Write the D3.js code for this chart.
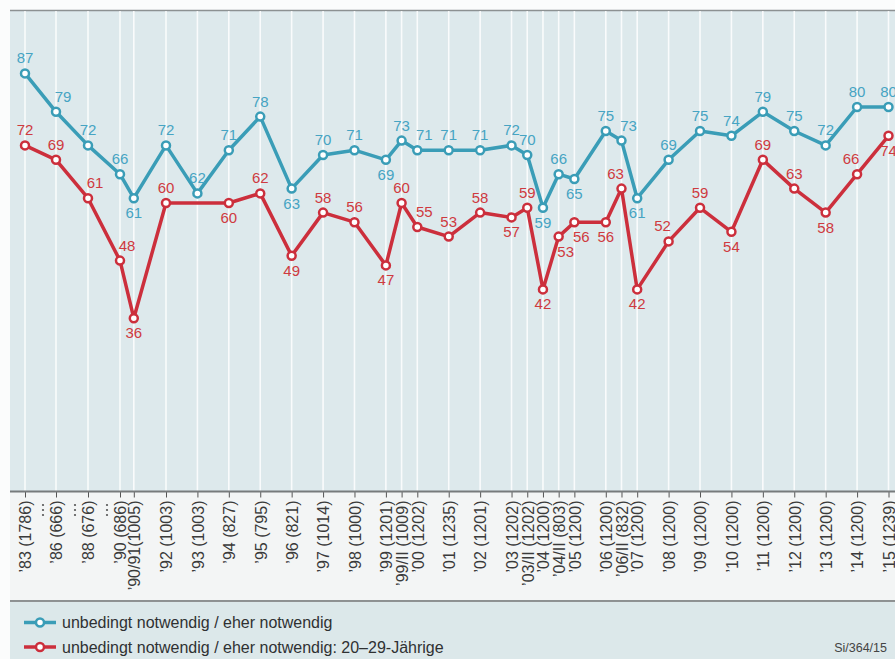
<!DOCTYPE html>
<html>
<head>
<meta charset="utf-8">
<script src="https://cdn.jsdelivr.net/npm/d3@7"></script>
<style>
  html, body { margin: 0; padding: 0; background: #fbfcfc; }
  svg { display: block; font-family: "Liberation Sans", Arial, Helvetica, sans-serif; }
</style>
</head>
<body>
<svg id="chart" width="895" height="659"></svg>
<script>
// ---- data ----
const categories = ["’83 (1786)", "’86 (666)", "’88 (676)", "’90 (686)", "’90/91(1005)", "’92 (1003)", "’93 (1003)", "’94 (827)", "’95 (795)", "’96 (821)", "’97 (1014)", "’98 (1000)", "’99 (1201)", "’99/II (1009)", "’00 (1202)", "’01 (1235)", "’02 (1201)", "’03 (1202)", "’03/II (1202)", "’04 (1200)", "’04/II (803)", "’05 (1200)", "’06 (1200)", "’06/II (832)", "’07 (1200)", "’08 (1200)", "’09 (1200)", "’10 (1200)", "’11 (1200)", "’12 (1200)", "’13 (1200)", "’14 (1200)", "’15 (1239)"];
// approximate survey time (year fraction)
const surveyTime = [1983.5, 1986.5, 1988.5, 1990.5, 1991.1, 1992.5, 1993.5, 1994.5, 1995.5, 1996.5, 1997.5, 1998.5, 1999.5, 2000.0, 2000.5, 2001.5, 2002.5, 2003.5, 2004.0, 2004.5, 2005.0, 2005.5, 2006.5, 2007.0, 2007.5, 2008.5, 2009.5, 2010.5, 2011.5, 2012.5, 2013.5, 2014.5, 2015.5];
const allValues = [87, 79, 72, 66, 61, 72, 62, 71, 78, 63, 70, 71, 69, 73, 71, 71, 71, 72, 70, 59, 66, 65, 75, 73, 61, 69, 75, 74, 79, 75, 72, 80, 80];
const youngValues = [72, 69, 61, 48, 36, 60, null, 60, 62, 49, 58, 56, 47, 60, 55, 53, 58, 57, 59, 42, 53, 56, 56, 63, 42, 52, 59, 54, 69, 63, 58, 66, 74];
// label placement: t = above, b = below, r/l = nudged right/left
const allLabelPlace = ["t","tr","t","t","b","t","t","t","t","b","t","t","b","t","tr","t","t","t","t","b","t","b","t","tr","b","t","t","t","t","t","t","t","t"];
const youngLabelPlace = ["t","t","tr","tr","b","t","t","b","t","b","t","t","b","t","tr","t","t","b","t","b","br","br","b","tl","b","tl","t","b","t","t","b","tl","b"];
const seriesNames = ["unbedingt notwendig / eher notwendig", "unbedingt notwendig / eher notwendig: 20–29-Jährige"];
const sourceNote = "Si/364/15";

// ---- styles ----
const blue = "#3a9db7", blueText = "#46a4c3";
const red = "#cc2f3c", redText = "#cf3a40";

const svg = d3.select("#chart");
const W = 895, H = 659;
const plotTop = 11, plotBottom = 491, plotLeft = 10;

// backgrounds
svg.append("rect").attr("x", plotLeft).attr("y", plotTop).attr("width", W - plotLeft).attr("height", plotBottom - plotTop).attr("fill", "#dde9ec");
svg.append("rect").attr("x", plotLeft).attr("y", plotBottom).attr("width", W - plotLeft).attr("height", 110).attr("fill", "#f3f5f5");
svg.append("rect").attr("x", plotLeft).attr("y", 602).attr("width", W - plotLeft).attr("height", 57).attr("fill", "#dce8ea");
svg.append("line").attr("x1", plotLeft).attr("x2", W).attr("y1", 10.5).attr("y2", 10.5).attr("stroke", "#8c9192").attr("stroke-width", 1.5);
svg.append("line").attr("x1", plotLeft).attr("x2", W).attr("y1", 601).attr("y2", 601).attr("stroke", "#6b6f70").attr("stroke-width", 1.5);

// scales (broken time axis before 1992)
const x = d3.scaleLinear()
  .domain([surveyTime[0], surveyTime[1], surveyTime[2], surveyTime[3], surveyTime[5], surveyTime[surveyTime.length - 1]])
  .range([25, 56, 88, 120, 166, 888.5]);
const y = d3.scaleLinear().domain([0, 100]).range([plotBottom, plotTop]);

// grid lines
svg.append("g").selectAll("line").data(surveyTime).join("line")
  .attr("x1", d => x(d)).attr("x2", d => x(d))
  .attr("y1", plotTop).attr("y2", plotBottom)
  .attr("stroke", "#ffffff").attr("stroke-width", 1.6).attr("opacity", 0.85);

// axis
const axisG = svg.append("g").attr("transform", `translate(0,${plotBottom + 0.5})`)
  .call(d3.axisBottom(x).tickValues(surveyTime).tickSize(6).tickFormat((d, i) => categories[i]));
axisG.select(".domain").remove();
axisG.selectAll(".tick line").attr("stroke", "#555").attr("stroke-width", 1);
axisG.selectAll(".tick text")
  .attr("transform", "rotate(-90)")
  .attr("text-anchor", "end")
  .attr("x", -9).attr("y", 0).attr("dy", "0.36em")
  .attr("font-size", 16)
  .attr("font-family", "\"Liberation Sans\", Arial, sans-serif")
  .attr("fill", "#3a3a3a");
svg.append("line").attr("x1", plotLeft).attr("x2", W).attr("y1", plotBottom + 0.5).attr("y2", plotBottom + 0.5)
  .attr("stroke", "#777b7c").attr("stroke-width", 2);

// break markers
[1, 2, 3].forEach(i => {
  const bx = x(surveyTime[i]) - 13;
  [505, 510, 515].forEach(by => svg.append("circle").attr("cx", bx).attr("cy", by).attr("r", 1.1).attr("fill", "#555"));
});

// series
const series = [
  { values: allValues, place: allLabelPlace, color: blue, text: blueText },
  { values: youngValues, place: youngLabelPlace, color: red, text: redText }
];
const line = d3.line().x(d => x(d.t)).y(d => y(d.v));
series.forEach(s => {
  s.pts = surveyTime.map((t, i) => ({ t, v: s.values[i], p: s.place[i] })).filter(d => d.v !== null);
  svg.append("path").datum(s.pts).attr("d", line)
    .attr("fill", "none").attr("stroke", s.color).attr("stroke-width", 3.5)
    .attr("stroke-linejoin", "round");
});
series.forEach(s => {
  svg.append("g").selectAll("circle").data(s.pts).join("circle")
    .attr("cx", d => x(d.t)).attr("cy", d => y(d.v)).attr("r", 4)
    .attr("fill", "#ffffff").attr("stroke", s.color).attr("stroke-width", 2.5);
  svg.append("g").selectAll("text").data(s.pts).join("text")
    .attr("x", d => x(d.t) + (d.p.includes("r") ? 7 : d.p.includes("l") ? -6 : 0))
    .attr("y", d => y(d.v) + (d.p[0] === "t" ? -10 : 20))
    .attr("text-anchor", "middle")
    .attr("font-size", 15)
    .attr("fill", s.text)
    .text(d => d.v);
});

// legend
seriesNames.forEach((name, i) => {
  const ly = 622.5 + i * 24.5;
  const c = series[i].color;
  svg.append("line").attr("x1", 24).attr("x2", 56).attr("y1", ly).attr("y2", ly).attr("stroke", c).attr("stroke-width", 3.5);
  svg.append("circle").attr("cx", 40).attr("cy", ly).attr("r", 4).attr("fill", "#fff").attr("stroke", c).attr("stroke-width", 2.5);
  svg.append("text").attr("x", 62).attr("y", ly + 5.5).attr("font-size", 16).attr("fill", "#2f3132").text(name);
});
svg.append("text").attr("x", 887).attr("y", 652).attr("text-anchor", "end").attr("font-size", 12.5).attr("fill", "#444").text(sourceNote);
</script>
</body>
</html>
